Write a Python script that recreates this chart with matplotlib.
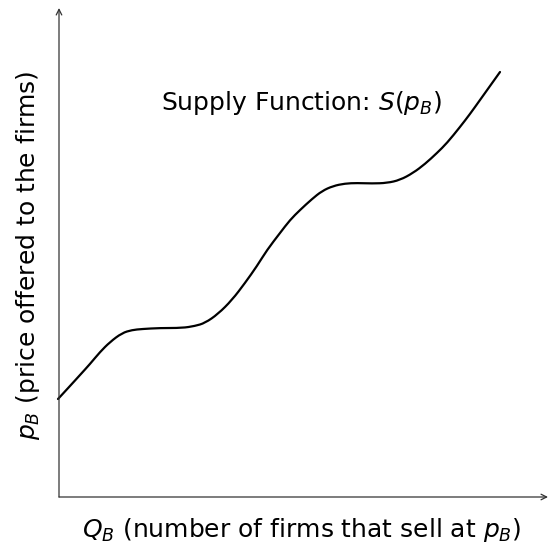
import matplotlib.pyplot as plt
from matplotlib.path import Path
from matplotlib.patches import PathPatch

# supply curve (units = pixels from the origin)
q_vals = [-1, 11, 21, 31, 41, 51, 63, 73, 83, 101, 123, 136, 146, 159, 173, 186, 198, 208,
          221, 231, 241, 253, 263, 274, 286, 298, 313, 328, 341, 354, 366, 378, 388, 401,
          411, 421, 431, 441]
p_vals = [98, 111, 122, 133, 145, 155, 164, 167, 168, 169, 169, 171, 174, 183, 197, 214,
          231, 247, 264, 277, 287, 298, 306, 311, 313.5, 314, 313.5, 314, 317, 324, 333,
          344, 354, 370, 383, 397, 411, 425]

title_txt = "Supply Function: $S(p_B)$"
xlab = "$Q_B$ (number of firms that sell at $p_B$)"
ylab = "$p_B$ (price offered to the firms)"

plt.rcParams['mathtext.fontset'] = 'dejavusans'

fig = plt.figure(figsize=(5.49, 5.46), dpi=100)
ax = fig.add_axes([59/549, 49/546, 489/549, 489/546])
ax.set_xlim(0, 489)
ax.set_ylim(0, 489)
ax.axis('off')

# axes with arrow heads
arr = dict(arrowstyle='->', color='#333333', lw=0.9, shrinkA=0, shrinkB=0)
ax.annotate('', xy=(489, 0), xytext=(0, 0), arrowprops=arr, annotation_clip=False)
ax.annotate('', xy=(0, 489), xytext=(0, 0), arrowprops=arr, annotation_clip=False)

# smooth curve: read points as quadratic control points, midpoints on the curve
pts = list(zip(q_vals, p_vals))
verts = [pts[0]]
codes = [Path.MOVETO]
for i in range(1, len(pts) - 1):
    mid = ((pts[i][0] + pts[i + 1][0]) / 2, (pts[i][1] + pts[i + 1][1]) / 2)
    if i == len(pts) - 2:
        mid = pts[-1]
    verts += [pts[i], mid]
    codes += [Path.CURVE3, Path.CURVE3]
patch = PathPatch(Path(verts, codes), fill=False, edgecolor='black', lw=1.6,
                  capstyle='round', clip_on=False)
ax.add_patch(patch)

ax.text(243, 394, title_txt, fontsize=18, ha='center', va='center')
fig.text(302/549, 1 - 530/546, xlab, fontsize=18, ha='center', va='center')
fig.text(28/549, 1 - 255/546, ylab, fontsize=18, ha='center', va='center', rotation=90)

fig.savefig('out.png', dpi=100)
